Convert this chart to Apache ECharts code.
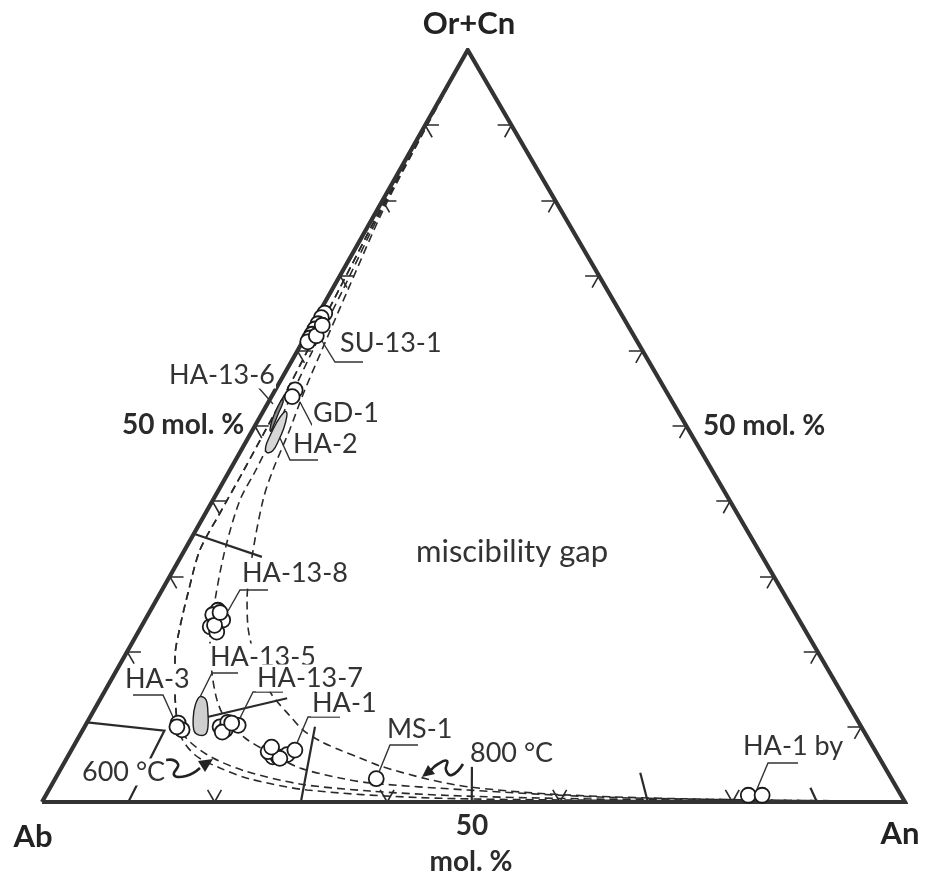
<!DOCTYPE html>
<html>
<head>
<meta charset="utf-8">
<title>Ab – An – Or+Cn feldspar diagram</title>
<script src="https://cdn.jsdelivr.net/npm/echarts@6/dist/echarts.min.js"></script>
<style>
  html, body { margin: 0; padding: 0; background: #fff; }
  #chart { width: 931px; height: 875px; }
</style>
</head>
<body>
<div id="chart"></div>
<script>
// ---- Feldspar compositions, mol.% as [Ab, An, Or+Cn] ----
const SU_13_1 = [[34.3,0.7,65.0],[35.0,0.6,64.4],[35.8,0.6,63.6],[36.5,0.6,62.9],[37.2,0.6,62.2],[37.7,0.6,61.7],[38.2,0.6,61.2],[36.8,1.2,62.0],[35.4,1.2,63.4]];
const GD_1 = [[42.9,2.3,54.8],[43.7,2.4,53.9]];
const HA_13_8 = [[66.7,7.8,25.5],[67.6,7.5,24.9],[66.8,9.0,24.2],[68.7,8.0,23.3],[68.3,9.1,22.6],[68.1,8.4,23.5],[66.6,8.2,25.2]];
const HA_3 = [[78.9,10.6,10.5],[78.9,11.5,9.6],[79.3,10.7,10.0]];
const HA_13_7 = [[74.3,15.7,10.0],[73.9,16.5,9.6],[73.1,16.3,10.6],[72.1,17.7,10.2],[74.4,16.3,9.3],[72.7,16.8,10.5]];
const HA_1 = [[70.3,23.2,6.5],[70.2,23.8,6.0],[69.6,24.4,6.0],[68.4,25.3,6.3],[67.2,25.9,6.9],[70.4,22.9,6.7],[69.5,24.7,5.8],[69.7,23.0,7.3]];
const MS_1 = [[59.7,37.2,3.1]];
const HA_1_BY = [[17.7,81.4,0.9],[16.1,83.0,0.9]];

// Compositional fields (outlines), [Ab, An, Or+Cn]
const FIELD_HA_13_5 = [[74.6,11.4,14.0],[74.1,12.3,13.6],[74.7,13.3,12.0],[75.7,14.3,10.0],[76.5,14.5,9.0],[77.3,13.8,8.9],[77.6,13.0,9.4],[76.8,12.0,11.2],[75.7,11.4,12.9]];
const FIELD_HA_2 = [[50.4,3.1,46.5],[50.1,2.6,47.3],[48.9,2.4,48.7],[47.4,2.3,50.3],[46.0,2.4,51.6],[45.4,2.7,51.9],[45.7,3.1,51.2],[46.8,3.5,49.7],[48.2,3.7,48.1],[49.6,3.7,46.7]];
const FIELD_HA_13_6 = [[48.5,2.0,49.5],[47.6,1.6,50.8],[46.2,1.4,52.4],[45.0,1.4,53.6],[45.1,1.7,53.2],[46.4,1.9,51.7],[47.6,2.1,50.3],[48.5,2.2,49.3]];

// Solvus isotherms (ternary miscibility gap), [Ab, An, Or+Cn]
const SOLVUS_800 = [[0,0,100],[11.01,0.29,88.70],[20.58,0.70,78.72],[30.06,1.85,68.09],[37.11,2.78,60.11],[42.13,3.48,54.39],[46.24,4.29,49.47],[50.87,4.98,44.15],[54.04,5.80,40.16],[59.16,8.26,32.58],[62.63,10.51,26.86],[64.34,12.39,23.27],[65.22,14.17,20.61],[65.95,17.16,16.89],[66.14,19.63,14.23],[65.47,23.09,11.44],[64.91,25.52,9.57],[63.67,28.22,8.11],[61.97,31.12,6.91],[60.19,33.96,5.85],[58.41,36.80,4.79],[53.83,43.11,3.06],[49.40,48.61,1.99],[40.60,58.34,1.06],[29.28,70.19,0.53],[16.66,83.07,0.27],[5.15,94.72,0.13]];
const SOLVUS_MID = [[0,0,100],[11.07,0.23,88.70],[20.76,0.52,78.72],[30.64,1.27,68.09],[38.15,1.74,60.11],[43.41,2.20,54.39],[47.86,2.67,49.47],[52.84,3.01,44.15],[56.71,3.13,40.16],[61.82,4.67,33.51],[66.34,6.80,26.86],[69.62,8.84,21.54],[71.61,11.24,17.15],[72.85,13.59,13.56],[73.14,15.69,11.17],[72.16,19.33,8.51],[70.28,23.20,6.52],[67.81,27.67,4.52],[63.86,32.95,3.19],[60.71,36.76,2.53],[49.94,48.46,1.60],[35.01,64.33,0.66],[17.81,81.92,0.27],[5.17,94.70,0.13]];
const SOLVUS_600 = [[0,0,100],[11.16,0.14,88.70],[20.93,0.35,78.72],[31.10,0.81,68.09],[38.73,1.16,60.11],[44.22,1.39,54.39],[49.02,1.51,49.47],[54.23,1.62,44.15],[59.90,1.67,38.43],[64.72,1.77,33.51],[69.00,3.21,27.79],[72.22,4.51,23.27],[74.82,5.90,19.28],[77.05,8.06,14.89],[78.28,9.49,12.23],[79.11,10.78,10.11],[78.81,13.21,7.98],[77.22,16.93,5.85],[74.39,21.49,4.12],[68.90,28.71,2.39],[61.25,37.29,1.46],[52.29,46.85,0.86],[39.74,59.79,0.47],[23.64,76.13,0.23],[5.15,94.72,0.13]];
const SOLVUS_LOW = [[0,0,100],[11.16,0.14,88.70],[20.93,0.35,78.72],[31.10,0.81,68.09],[38.73,1.16,60.11],[44.22,1.39,54.39],[49.02,1.51,49.47],[54.23,1.62,44.15],[59.90,1.67,38.43],[64.72,1.77,33.51],[69.00,3.21,27.79],[72.22,4.51,23.27],[74.82,5.90,19.28],[77.05,8.06,14.89],[78.28,9.49,12.23],[79.49,11.60,8.91],[79.10,14.65,6.25],[77.08,18.40,4.52],[74.34,22.60,3.06],[68.48,29.92,1.60],[56.25,43.15,0.60],[39.83,59.90,0.27],[5.18,94.75,0.07]];

// Tie lines between coexisting feldspars, [Ab, An, Or+Cn]
const TIE_LINES = [
  [[64.2,0.2,35.6],[58.0,9.4,32.6]],
  [[89.4,0.0,10.6],[81.0,9.5,9.5],[90.0,10.0,0.0]],
  [[75.1,13.6,11.3],[64.6,21.6,13.8]],
  [[70.0,30.0,0.0],[63.3,26.7,10.0]],
  [[50.2,49.8,0.0],[47.8,47.5,4.7]],
  [[29.8,70.2,0.0],[28.7,67.4,3.9]],
  [[10.2,89.8,0.0],[10.0,88.1,1.9]]
];

// Edge tick positions, mol.%
const LEFT_TICKS = [20,30,40,50,60,70,80,90];       // Or+Cn along Ab–Or edge
const RIGHT_TICKS = [10,20,30,40,50,60,70,80,90];   // Or+Cn along An–Or edge
const BASE_TICKS = [20,40,60,80];                   // An along Ab–An edge

// ---- Ternary → cartesian ----
const APEX_SKEW = 0.4933;   // apex offset along the base (fraction)
const STUB = 1.6;           // tick stub length, mol.%
function toXY(c) {
  const s = c[0] + c[1] + c[2];
  const an = c[1] / s, or = c[2] / s;
  return [an + APEX_SKEW * or, or];
}

const INK = '#2a2a2a';
const TEXT = '#333333';

const tickSegs = [];
LEFT_TICKS.forEach(t => {
  const p = [100 - t, 0, t];
  tickSegs.push([p, [100 - t - STUB, STUB, t]]);
  tickSegs.push([p, [100 - t, STUB, t - STUB]]);
});
RIGHT_TICKS.forEach(t => {
  const p = [0, 100 - t, t];
  tickSegs.push([p, [STUB, 100 - t - STUB, t]]);
  tickSegs.push([p, [STUB, 100 - t, t - STUB]]);
});
BASE_TICKS.forEach(t => {
  const p = [100 - t, t, 0];
  tickSegs.push([p, [100 - t - STUB, t, STUB]]);
  tickSegs.push([p, [100 - t, t - STUB, STUB]]);
});

function curve(name, pts) {
  return {
    type: 'line', name, data: pts.map(toXY), symbol: 'none', smooth: 0.3,
    lineStyle: { color: INK, width: 1.6, type: [8, 5] }, z: 2, silent: true
  };
}
function field(name, pts, fill) {
  return {
    type: 'custom', name, coordinateSystem: 'cartesian2d', clip: false, z: 4, silent: true,
    data: [toXY(pts[0])],
    renderItem: (params, api) => ({
      type: 'polygon',
      shape: { points: pts.map(p => api.coord(toXY(p))), smooth: 0.4 },
      style: { fill, stroke: '#1e1e1e', lineWidth: 1.4 }
    })
  };
}
function samples(name, pts) {
  return {
    type: 'scatter', name, data: pts.map(toXY), symbol: 'circle', symbolSize: 15, z: 6,
    itemStyle: { color: '#fff', borderColor: '#1a1a1a', borderWidth: 1.8, opacity: 1 }, silent: true
  };
}

const series = [
  curve('800 °C', SOLVUS_800),
  curve('solvus', SOLVUS_MID),
  curve('600 °C', SOLVUS_600),
  curve('solvus low', SOLVUS_LOW),
  {
    type: 'lines', name: 'ticks', coordinateSystem: 'cartesian2d', z: 3, silent: true,
    data: tickSegs.map(s => ({ coords: s.map(toXY) })),
    lineStyle: { color: INK, width: 1.6, opacity: 1 }
  },
  {
    type: 'lines', name: 'tie lines', coordinateSystem: 'cartesian2d', polyline: true, z: 3, silent: true,
    data: TIE_LINES.map(l => ({ coords: l.map(toXY) })),
    lineStyle: { color: INK, width: 2.2, opacity: 1 }
  },
  {
    type: 'line', name: 'frame', symbol: 'none', z: 5, silent: true,
    data: [[100,0,0],[0,100,0],[0,0,100],[100,0,0]].map(toXY),
    lineStyle: { color: '#333', width: 4.2, join: 'miter', miterLimit: 20 }
  },
  field('HA-2', FIELD_HA_2, '#d6d6d6'),
  field('HA-13-6', FIELD_HA_13_6, '#8c8c8c'),
  field('HA-13-5', FIELD_HA_13_5, '#cfcfcf'),
  samples('SU-13-1', SU_13_1),
  samples('GD-1', GD_1),
  samples('HA-13-8', HA_13_8),
  samples('HA-3', HA_3),
  samples('HA-13-7', HA_13_7),
  samples('HA-1', HA_1),
  samples('MS-1', MS_1),
  samples('HA-1 by', HA_1_BY)
];

// ---- Annotations ----
function txt(text, x, y, font, align, fill, bg) {
  const style = { text, font, fill: fill || TEXT, align, verticalAlign: 'middle', textAlign: align, textVerticalAlign: 'middle' };
  if (bg) { style.backgroundColor = '#fff'; style.padding = [0, 1]; }
  return { type: 'text', x, y, z: 100, style, silent: true };
}
function leader(points) {
  return { type: 'polyline', z: 90, shape: { points }, style: { stroke: '#333', lineWidth: 1.4, fill: null }, silent: true };
}
const LBL = '27px Lato';
const BOLD = 'bold 28px Lato';
const VERT = 'bold 31px Lato';

const graphic = [
  txt('Or+Cn', 469, 24, VERT, 'center', '#222'),
  txt('Ab', 33, 837, VERT, 'center', '#222'),
  txt('An', 900, 834, VERT, 'center', '#222'),
  txt('50 mol. %', 183, 425, BOLD, 'center', '#2b2b2b'),
  txt('50 mol. %', 703, 426, BOLD, 'left', '#2b2b2b'),
  txt('50', 472, 826, BOLD, 'center', '#2b2b2b'),
  txt('mol. %', 471, 862, BOLD, 'center', '#2b2b2b'),
  txt('miscibility gap', 512, 552, '31px Lato', 'center'),

  txt('SU-13-1', 339, 343, LBL, 'left', TEXT, true),
  txt('GD-1', 312, 413, LBL, 'left', TEXT, true),
  txt('HA-2', 292, 444, LBL, 'left', TEXT, true),
  txt('HA-13-6', 222, 375, LBL, 'center', TEXT, true),
  txt('HA-13-8', 241, 573, LBL, 'left', TEXT, true),
  txt('HA-13-5', 209, 657, LBL, 'left', TEXT, true),
  txt('HA-3', 124, 679, LBL, 'left', TEXT, true),
  txt('HA-13-7', 256, 678, LBL, 'left', TEXT, true),
  txt('HA-1', 311, 703, LBL, 'left', TEXT, true),
  txt('MS-1', 386, 729, LBL, 'left', TEXT, true),
  txt('800 °C', 469, 753, LBL, 'left', TEXT, true),
  txt('600 °C', 81, 772, LBL, 'left', TEXT, true),
  txt('HA-1 by', 742, 746, LBL, 'left', TEXT, true),

  leader([[322,341],[335,362],[363,362]]),
  leader([[300,402],[312,425],[340,425]]),
  leader([[280,438],[290,460],[318,460]]),
  leader([[232,387],[258,387],[273,404]]),
  leader([[228,611],[240,590],[268,590]]),
  leader([[200,697],[212,673],[238,673]]),
  leader([[133,695],[163,695],[173,717]]),
  leader([[240,718],[253,692],[283,692]]),
  leader([[297,743],[308,717],[340,717]]),
  leader([[379,772],[390,745],[418,745]]),
  leader([[757,789],[768,763],[798,763]]),

  // curly arrows pointing at the isotherms
  { type: 'polyline', z: 95, silent: true,
    shape: { points: [[157,768],[166,760],[178,764],[174,775],[186,776],[200,768]], smooth: 0.5 },
    style: { stroke: '#222', lineWidth: 2.6, fill: null } },
  { type: 'polygon', z: 95, silent: true,
    shape: { points: [[213,759],[198,761],[205,772]] }, style: { fill: '#222' } },
  { type: 'polyline', z: 95, silent: true,
    shape: { points: [[463,764],[452,775],[446,770],[447,761],[438,764],[431,770]], smooth: 0.5 },
    style: { stroke: '#222', lineWidth: 2.6, fill: null } },
  { type: 'polygon', z: 95, silent: true,
    shape: { points: [[422,777],[428,765],[435,774]] }, style: { fill: '#222' } }
];

const chart = echarts.init(document.getElementById('chart'), null, { renderer: 'canvas' });
chart.setOption({
  animation: false,
  backgroundColor: '#fff',
  grid: { left: 42, right: 26, top: 50, bottom: 73 },
  xAxis: { type: 'value', min: 0, max: 1, show: false },
  yAxis: { type: 'value', min: 0, max: 1, show: false },
  series,
  graphic
});
</script>
</body>
</html>
